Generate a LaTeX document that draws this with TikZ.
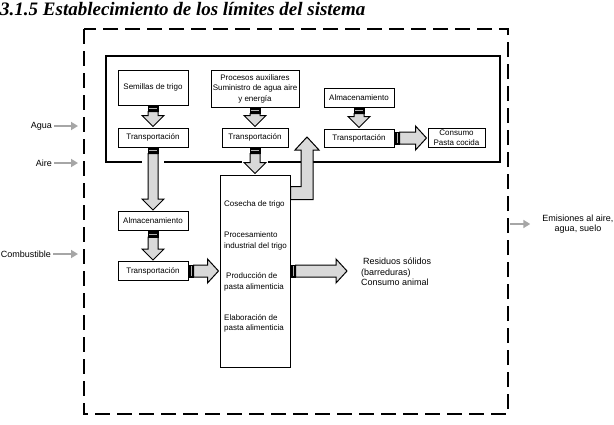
\documentclass[tikz,border=0pt]{standalone}
\usepackage{fontspec}
\setmainfont{Liberation Sans}
\newfontfamily\titlefont{Liberation Serif}
\usepackage{tikz}
\usetikzlibrary{arrows.meta,calc}

\definecolor{blockgray}{HTML}{D9D9D9}
\definecolor{flowgray}{HTML}{A6A6A6}

% grey block arrows with the small black bar at their root
\newcommand{\blockdown}[2]{%
  \filldraw[blockarrow] let \p1=(#1), \p2=(#2) in
    (\x1-5pt,\y1-6pt) -- (\x1-5pt,\y2+12pt) -- (\x1-11pt,\y2+12pt) -- (\x1,\y2+1pt)
    -- (\x1+11pt,\y2+12pt) -- (\x1+5pt,\y2+12pt) -- (\x1+5pt,\y1-6pt) -- cycle;
  \filldraw[blockbar] let \p1=(#1) in (\x1-5pt,\y1) rectangle (\x1+5pt,\y1-6pt);
  \draw[barline] let \p1=(#1) in (\x1-4pt,\y1-3pt) -- (\x1+4pt,\y1-3pt);
}
\newcommand{\blockright}[2]{%
  \filldraw[blockarrow] let \p1=(#1), \p2=(#2) in
    (\x1+5pt,\y1+6pt) -- (\x2-12pt,\y1+6pt) -- (\x2-12pt,\y1+12pt) -- (\x2-1pt,\y1)
    -- (\x2-12pt,\y1-12pt) -- (\x2-12pt,\y1-6pt) -- (\x1+5pt,\y1-6pt) -- cycle;
  \filldraw[blockbar] let \p1=(#1) in (\x1,\y1-6pt) rectangle (\x1+5pt,\y1+6pt);
  \draw[barline] let \p1=(#1) in (\x1+2.5pt,\y1-5pt) -- (\x1+2.5pt,\y1+5pt);
}

\begin{document}
\begin{tikzpicture}[x=1pt, y=-1pt,
    box/.style={draw, line width=1pt, fill=white, font=\fontsize{8}{10.5}\selectfont, align=center, inner sep=1pt},
    txt/.style={font=\fontsize{8}{10.5}\selectfont, align=left, inner sep=0pt, anchor=west},
    side/.style={font=\fontsize{9}{10.5}\selectfont, inner sep=0pt},
    flow/.style={-{Triangle[length=7pt, width=8pt]}, draw=flowgray, line width=2pt},
    blockarrow/.style={draw=black, fill=blockgray, line width=1pt, line join=miter},
    blockbar/.style={draw=black, fill=black, line width=0.6pt},
    barline/.style={draw=gray!60, line width=0.6pt}
]

\useasboundingbox (0,0) rectangle (614,424);

% Title
\node[anchor=base west, inner sep=0pt, font=\titlefont\fontsize{19}{21}\selectfont\bfseries\itshape] (title) at (0,15) {3.1.5 Establecimiento de los límites del sistema};

% System boundary and inner stage
\draw[line width=2.5pt, dash pattern=on 15pt off 7pt] (84,29) rectangle (508,414);
\draw[line width=2pt] (106,56) rectangle (500,162);
\fill[white] (142,158) rectangle (164,166);
\fill[white] (242,158) rectangle (268,166);

% Boxes
\node[box, minimum width=70pt, minimum height=35pt] (sem) at (153,87.5) {Semillas de trigo};
\node[box, minimum width=88pt, minimum height=37pt] (proc) at (255,88.5) {Procesos auxiliares\\Suministro de agua aire\\y energía};
\node[box, minimum width=70pt, minimum height=19pt] (tra1) at (153,137.5) {Transportación};
\node[box, minimum width=66pt, minimum height=19pt] (tra2) at (255,137.5) {Transportación};
\node[box, minimum width=70pt, minimum height=19pt] (alm3) at (359,97.5) {Almacenamiento};
\node[box, minimum width=70pt, minimum height=18pt] (tra4) at (359,138) {Transportación};
\node[box, minimum width=57pt, minimum height=19pt, inner sep=0pt, font=\fontsize{8}{9.5}\selectfont] (cons) at (456.5,137.5) {Consumo\\Pasta cocida};
\node[box, minimum width=70pt, minimum height=19pt] (alm2) at (153,221) {Almacenamiento};
\node[box, minimum width=70pt, minimum height=19pt] (tra3) at (153,271) {Transportación};
\node[box, minimum width=70pt, minimum height=192pt] (cos) at (255,271) {};

% Stages inside the processing box
\node[txt] (t1) at (224,204) {Cosecha de trigo};
\node[txt] (t2) at (224,241) {Procesamiento\\industrial del trigo};
\node[txt] (t3) at (224,282) {\hspace{2pt}Producción de\\pasta alimenticia};
\node[txt] (t4) at (224,323.5) {Elaboración de\\pasta alimenticia};

% Block arrows
\blockdown{sem.south}{tra1.north}
\blockdown{proc.south}{tra2.north}
\blockdown{alm3.south}{tra4.north}
\blockdown{tra1.south}{alm2.north}
\blockdown{alm2.south}{tra3.north}
\blockdown{tra2.south}{cos.north}
\blockright{tra4.east}{cons.west}
\blockright{tra3.east}{cos.west}

\coordinate (resIn) at (348,271);
\node[side, align=left, anchor=west] (res) at (361,272) {\hspace{2pt}Residuos sólidos\\(barreduras)\\Consumo animal};
\blockright{cos.east}{resIn}

\coordinate (upTip) at (307,137);
\filldraw[blockarrow] let \p1=(cos.north east), \p2=(upTip) in
  (\x1,\y1-12pt) -- (\x2-6pt,\y1-12pt) -- (\x2-6pt,\y2-13pt) -- (\x2-12pt,\y2-13pt) -- (\x2,\y2)
  -- (\x2+12pt,\y2-13pt) -- (\x2+6pt,\y2-13pt) -- (\x2+6pt,\y1-25pt) -- (\x1,\y1-25pt) -- cycle;

% Inputs and outputs across the boundary
\node[side, anchor=east] (agua) at (52,126) {Agua};
\node[side, anchor=east] (aire) at (52,163) {Aire};
\node[side, anchor=east] (comb) at (51,254) {Combustible};
\coordinate (aguaIn) at (78,126);
\coordinate (aireIn) at (78,163);
\coordinate (combIn) at (78,254);
\draw[flow, shorten <=2pt] (agua) -- (aguaIn);
\draw[flow, shorten <=2pt] (aire) -- (aireIn);
\draw[flow, shorten <=2pt] (comb) -- (combIn);

\node[side, align=center] (emis) at (578,224) {Emisiones al aire,\\agua, suelo};
\coordinate (emisOut) at (510,224);
\draw[flow, shorten >=12pt] (emisOut) -- (emis);

\end{tikzpicture}
\end{document}
